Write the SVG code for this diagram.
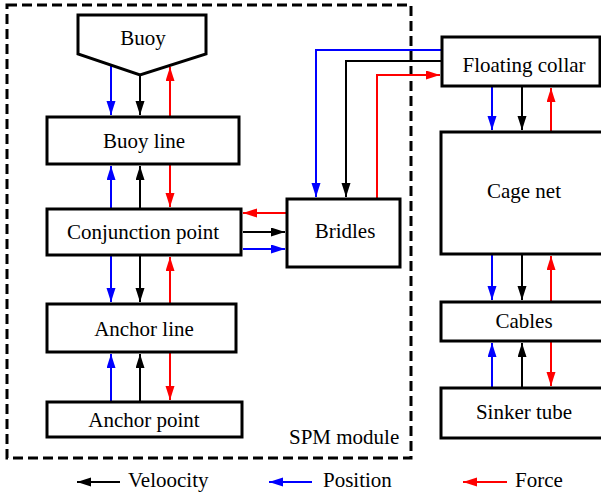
<svg xmlns="http://www.w3.org/2000/svg" width="601" height="497" viewBox="0 0 601 497">
<style>
.box{fill:#fff;stroke:#000;stroke-width:3}
text{font-family:'Liberation Serif','Times New Roman','DejaVu Serif',serif;font-size:21px;fill:#000;text-anchor:middle}
.s{text-anchor:start}
.k{fill:none;stroke:#000;stroke-width:2}
.b{fill:none;stroke:#0000ff;stroke-width:2}
.r{fill:none;stroke:#ff0000;stroke-width:2}
.k.a{marker-end:url(#mk)}
.b.a{marker-end:url(#mb)}
.r.a{marker-end:url(#mr)}
</style>
<defs>
<marker id="mk" markerUnits="userSpaceOnUse" markerWidth="15" markerHeight="10" refX="14" refY="4.5" orient="auto"><path d="M0,0 L14,4.5 L0,9 z" fill="#000"/></marker>
<marker id="mb" markerUnits="userSpaceOnUse" markerWidth="15" markerHeight="10" refX="14" refY="4.5" orient="auto"><path d="M0,0 L14,4.5 L0,9 z" fill="#0000ff"/></marker>
<marker id="mr" markerUnits="userSpaceOnUse" markerWidth="15" markerHeight="10" refX="14" refY="4.5" orient="auto"><path d="M0,0 L14,4.5 L0,9 z" fill="#ff0000"/></marker>
</defs>
<rect width="601" height="497" fill="#fff"/>
<g id="spm-module">
<rect x="7" y="5" width="404" height="453" fill="none" stroke="#000" stroke-width="3" stroke-dasharray="10,5"/>
<text class="s" x="289" y="444" font-family="Liberation Serif, serif">SPM module</text>
</g>
<g id="connectors">
<path class="b a" d="M111,66 V115"/>
<path class="k a" d="M140,75 V115"/>
<path class="r a" d="M170,117 V67"/>
<path class="b a" d="M111,209 V166"/>
<path class="k a" d="M140,209 V166"/>
<path class="r a" d="M170,164 V207"/>
<path class="b a" d="M111,255 V302"/>
<path class="k a" d="M140,255 V302"/>
<path class="r a" d="M170,304 V257"/>
<path class="b a" d="M111,402 V354"/>
<path class="k a" d="M140,402 V354"/>
<path class="r a" d="M170,352 V400"/>
<path class="r a" d="M287,213 H243"/>
<path class="k a" d="M243,232 H285"/>
<path class="b a" d="M243,249 H285"/>
<path class="b a" d="M442,50 H316 V197"/>
<path class="k a" d="M442,61 H346 V197"/>
<path class="r a" d="M377,199 V75 H440"/>
<path class="b a" d="M492,86 V130"/>
<path class="k a" d="M522,86 V130"/>
<path class="r a" d="M551,132 V88"/>
<path class="b a" d="M492,254 V300"/>
<path class="k a" d="M522,254 V300"/>
<path class="r a" d="M551,302 V256"/>
<path class="b a" d="M492,388 V343"/>
<path class="k a" d="M522,388 V343"/>
<path class="r a" d="M551,341 V386"/>
</g>
<g id="buoy">
<polygon class="box" points="78,15 206,15 206,54 140,75 78,54"/>
<text x="143" y="45">Buoy</text>
</g>
<g id="buoy-line">
<rect class="box" x="47" y="117" width="192" height="47"/>
<text x="144" y="148">Buoy line</text>
</g>
<g id="conjunction-point">
<rect class="box" x="47" y="209" width="194" height="46"/>
<text x="143" y="239">Conjunction point</text>
</g>
<g id="anchor-line">
<rect class="box" x="47" y="304" width="189" height="48"/>
<text x="144" y="336">Anchor line</text>
</g>
<g id="anchor-point">
<rect class="box" x="47" y="402" width="195" height="35"/>
<text x="144" y="427">Anchor point</text>
</g>
<g id="bridles">
<rect class="box" x="287" y="199" width="113" height="68"/>
<text x="345" y="238">Bridles</text>
</g>
<g id="floating-collar">
<rect class="box" x="442" y="37" width="158" height="49"/>
<text x="524" y="72">Floating collar</text>
</g>
<g id="cage-net">
<rect class="box" x="441" y="132" width="170" height="122"/>
<text x="524" y="198">Cage net</text>
</g>
<g id="cables">
<rect class="box" x="441" y="302" width="170" height="39"/>
<text x="524" y="328">Cables</text>
</g>
<g id="sinker-tube">
<rect class="box" x="441" y="388" width="170" height="50"/>
<text x="524" y="419">Sinker tube</text>
</g>
<g id="legend">
<path class="k a" d="M120,482 H77"/>
<text class="s" x="128" y="487">Veloocity</text>
<path class="b a" d="M312,482 H269"/>
<text class="s" x="323" y="487">Position</text>
<path class="r a" d="M507,482 H463"/>
<text class="s" x="515" y="487">Force</text>
</g>
</svg>
